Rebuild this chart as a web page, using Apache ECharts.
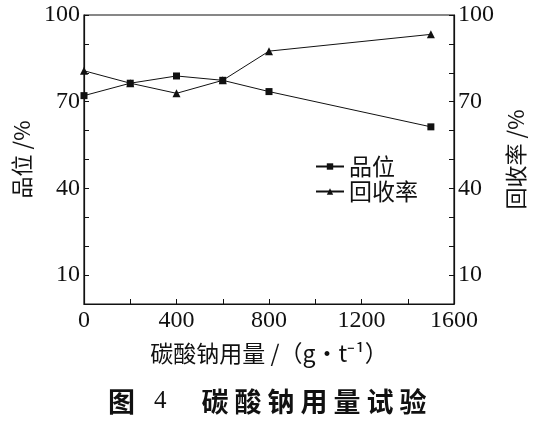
<!DOCTYPE html>
<html>
<head>
<meta charset="utf-8">
<script src="https://cdn.jsdelivr.net/npm/echarts@6/dist/echarts.min.js"></script>
<style>
  html, body { margin: 0; padding: 0; background: #fff; }
  #chart { width: 544px; height: 426px; }
</style>
</head>
<body>
<div id="chart"></div>
<script>
// 碳酸钠用量 g/t
const dosage = [0, 200, 400, 600, 800, 1500];
// 品位 %
const grade = [72.1, 76.4, 78.9, 77.4, 73.5, 61.3];
// 回收率 %
const recovery = [80.7, 76.4, 72.9, 77.4, 87.5, 93.3];

const serif = '"Liberation Serif", "DejaVu Serif", serif';
const cjk = '"Noto Sans CJK SC", sans-serif';
const ink = '#111';

const myChart = echarts.init(document.getElementById('chart'));

// y轴配置, 左右两轴刻度一致
function yAxisCfg(pos, name) {
  return {
    type: 'value',
    position: pos,
    min: 0,
    max: 100,
    interval: 10,
    name: name,
    nameLocation: 'middle',
    nameRotate: 90,
    nameGap: 50,
    nameTextStyle: { fontFamily: cjk, fontSize: 22, color: ink },
    axisLine: { show: true, lineStyle: { color: ink, width: 1.2 } },
    axisTick: { show: true, inside: true, length: 5, lineStyle: { color: ink } },
    splitLine: { show: false },
    axisLabel: {
      margin: 4,
      fontFamily: serif,
      fontSize: 24,
      color: ink,
      formatter: function (v) {
        return v % 30 === 10 ? v : '';
      },
    },
  };
}

// 标题逐字拆开, 加大字距
const titleChars = '碳酸钠用量试验'.split('').map((c) => `{t|${c}}`).join('');

const option = {
  animation: false,
  grid: {
    left: 84,
    right: 90,
    top: 15,
    bottom: 122,
    show: true,
    borderColor: ink,
    borderWidth: 1.2,
  },
  legend: {
    orient: 'vertical',
    left: 310,
    top: 150,
    itemWidth: 28,
    itemHeight: 8,
    itemGap: 2,
    textStyle: { fontFamily: cjk, fontSize: 23, color: ink, padding: [0, 0, 0, 0] },
    data: ['品位', '回收率'],
  },
  xAxis: {
    type: 'value',
    min: 0,
    max: 1600,
    interval: 200,
    name: '碳酸钠用量 /（g·t⁻¹）',
    nameLocation: 'middle',
    nameGap: 38,
    nameTextStyle: { fontFamily: cjk, fontSize: 23, color: ink },
    axisLine: { show: true, lineStyle: { color: ink, width: 1.2 } },
    axisTick: { show: true, inside: true, length: 5, lineStyle: { color: ink } },
    splitLine: { show: false },
    axisLabel: {
      margin: 5,
      fontFamily: serif,
      fontSize: 24,
      color: ink,
      formatter: function (v) {
        return v % 400 === 0 ? v : '';
      },
    },
  },
  yAxis: [yAxisCfg('left', '品位 /%'), yAxisCfg('right', '回收率 /%')],
  series: [
    {
      name: '品位',
      type: 'line',
      yAxisIndex: 0,
      data: dosage.map((d, i) => [d, grade[i]]),
      symbol: 'rect',
      symbolSize: 7,
      lineStyle: { color: ink, width: 1 },
      itemStyle: { color: ink },
    },
    {
      name: '回收率',
      type: 'line',
      yAxisIndex: 1,
      data: dosage.map((d, i) => [d, recovery[i]]),
      symbol: 'triangle',
      symbolSize: 8,
      lineStyle: { color: ink, width: 1 },
      itemStyle: { color: ink },
    },
  ],
  graphic: [
    {
      type: 'text',
      left: 108,
      top: 388,
      style: {
        text: '{h|图}{n|4}' + titleChars,
        rich: {
          h: { fontFamily: cjk, fontSize: 27, fontWeight: 'bold', fill: ink, padding: [0, 19, 0, 0] },
          n: { fontFamily: serif, fontSize: 25, fill: ink, padding: [0, 32, 0, 0] },
          t: { fontFamily: cjk, fontSize: 27, fontWeight: 'bold', fill: ink, padding: [0, 3, 0, 3] },
        },
      },
    },
  ],
};

myChart.setOption(option);
</script>
</body>
</html>
